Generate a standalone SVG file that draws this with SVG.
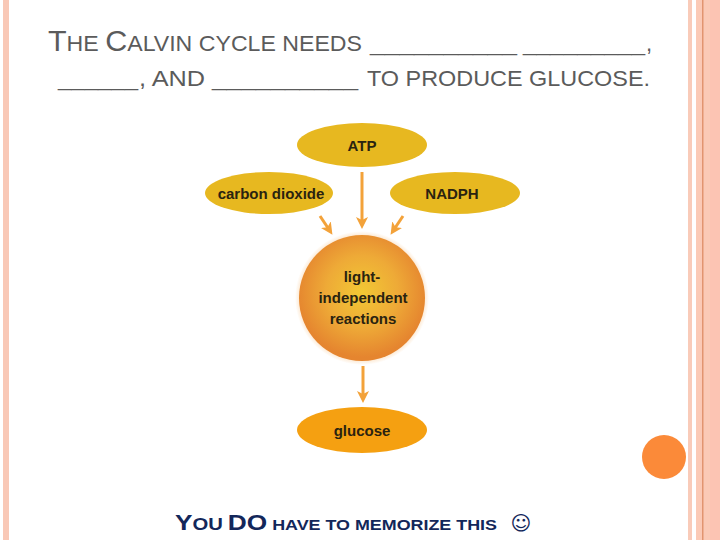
<svg xmlns="http://www.w3.org/2000/svg" width="720" height="540" viewBox="0 0 720 540">
  <defs>
    <style>
      .title { font-family: "Liberation Sans", Arial, sans-serif; fill: #5b5b5b; font-size: 22px; }
      .big { font-size: 29px; }
      .node { fill: #e7b820; }
      .lbl { font-family: "Liberation Sans", Arial, sans-serif; font-weight: bold; font-size: 15px; fill: #2a2310; text-anchor: middle; }
      .arrow { stroke: #f3a23a; stroke-width: 3; fill: none; marker-end: url(#head); }
      .foot { font-family: "Liberation Sans", Arial, sans-serif; font-weight: bold; fill: #13275a; font-size: 15px; }
      .foot .big2 { font-size: 22px; }
      .foot .mid { font-size: 17px; }
    </style>
    <marker id="head" viewBox="0 0 12 12" refX="4" refY="6" markerWidth="12" markerHeight="12" markerUnits="userSpaceOnUse" orient="auto">
      <path d="M0,0 L12,6 L0,12 L3,6 z" fill="#f3a23a"/>
    </marker>
    <radialGradient id="sun" cx="50%" cy="45%" r="52%">
      <stop offset="0" stop-color="#f2c834"/>
      <stop offset="0.55" stop-color="#eeaa37"/>
      <stop offset="1" stop-color="#e5852f"/>
    </radialGradient>
    <radialGradient id="glow" cx="50%" cy="50%" r="50%">
      <stop offset="0.85" stop-color="#f5b060" stop-opacity="0.6"/>
      <stop offset="1" stop-color="#f5b060" stop-opacity="0"/>
    </radialGradient>
  </defs>

  <rect width="720" height="540" fill="#ffffff"/>

  <!-- decorative stripes -->
  <rect x="3" y="0" width="6" height="540" fill="#f9c8b6"/>
  <rect x="688" y="0" width="4" height="540" fill="#f9cbb9"/>
  <rect x="696" y="0" width="24" height="540" fill="#fbcab6"/>
  <rect x="710" y="0" width="10" height="540" fill="#fcc4b3"/>
  <rect x="702" y="0" width="1.5" height="540" fill="#e29570"/>
  <circle cx="664" cy="457" r="22" fill="#fb8a39"/>

  <!-- title -->
  <text class="title" x="48" y="51" textLength="314" lengthAdjust="spacingAndGlyphs"><tspan class="big">T</tspan>HE <tspan class="big">C</tspan>ALVIN CYCLE NEEDS</text>
  <text class="title" x="370" y="51" textLength="147" lengthAdjust="spacingAndGlyphs">__________</text>
  <text class="title" x="523" y="51" textLength="122" lengthAdjust="spacingAndGlyphs">_________</text>
  <text class="title" x="646" y="51">,</text>
  <text class="title" x="58" y="86" textLength="80" lengthAdjust="spacingAndGlyphs">______</text>
  <text class="title" x="139" y="86" textLength="66" lengthAdjust="spacingAndGlyphs">, AND</text>
  <text class="title" x="212" y="86" textLength="146" lengthAdjust="spacingAndGlyphs">__________</text>
  <text class="title" x="367" y="86" textLength="283" lengthAdjust="spacingAndGlyphs">TO PRODUCE GLUCOSE.</text>

  <!-- connectors -->
  <g id="connectors">
    <line class="arrow" x1="362" y1="172" x2="362" y2="221"/>
    <line class="arrow" x1="320" y1="216" x2="328" y2="228"/>
    <line class="arrow" x1="403" y1="216" x2="395" y2="228"/>
    <line class="arrow" x1="363" y1="366" x2="363" y2="395"/>
  </g>

  <!-- nodes -->
  <g id="node-atp">
    <ellipse class="node" cx="362" cy="145" rx="65" ry="22"/>
    <text class="lbl" x="362" y="151">ATP</text>
  </g>
  <g id="node-co2">
    <ellipse class="node" cx="269" cy="193" rx="64" ry="21"/>
    <text class="lbl" x="271" y="199">carbon dioxide</text>
  </g>
  <g id="node-nadph">
    <ellipse class="node" cx="455" cy="193" rx="65" ry="21"/>
    <text class="lbl" x="452" y="199">NADPH</text>
  </g>
  <g id="node-lir">
    <circle cx="362" cy="298" r="67" fill="url(#glow)"/>
    <circle cx="362" cy="298" r="63" fill="url(#sun)"/>
    <text class="lbl" x="362" y="282">light-</text>
    <text class="lbl" x="363" y="303">independent</text>
    <text class="lbl" x="363" y="324">reactions</text>
  </g>
  <g id="node-glucose">
    <ellipse cx="362" cy="430" rx="65" ry="23" fill="#f5a011"/>
    <text class="lbl" x="362" y="436">glucose</text>
  </g>

  <!-- footer -->
  <text class="foot" x="175" y="530" textLength="322" lengthAdjust="spacingAndGlyphs"><tspan class="big2">Y</tspan><tspan class="mid">OU</tspan> <tspan class="big2">DO</tspan> HAVE TO MEMORIZE THIS</text>
  <text x="521" y="530" font-family="DejaVu Sans, sans-serif" font-size="20" fill="#13275a" text-anchor="middle">☺</text>
</svg>
